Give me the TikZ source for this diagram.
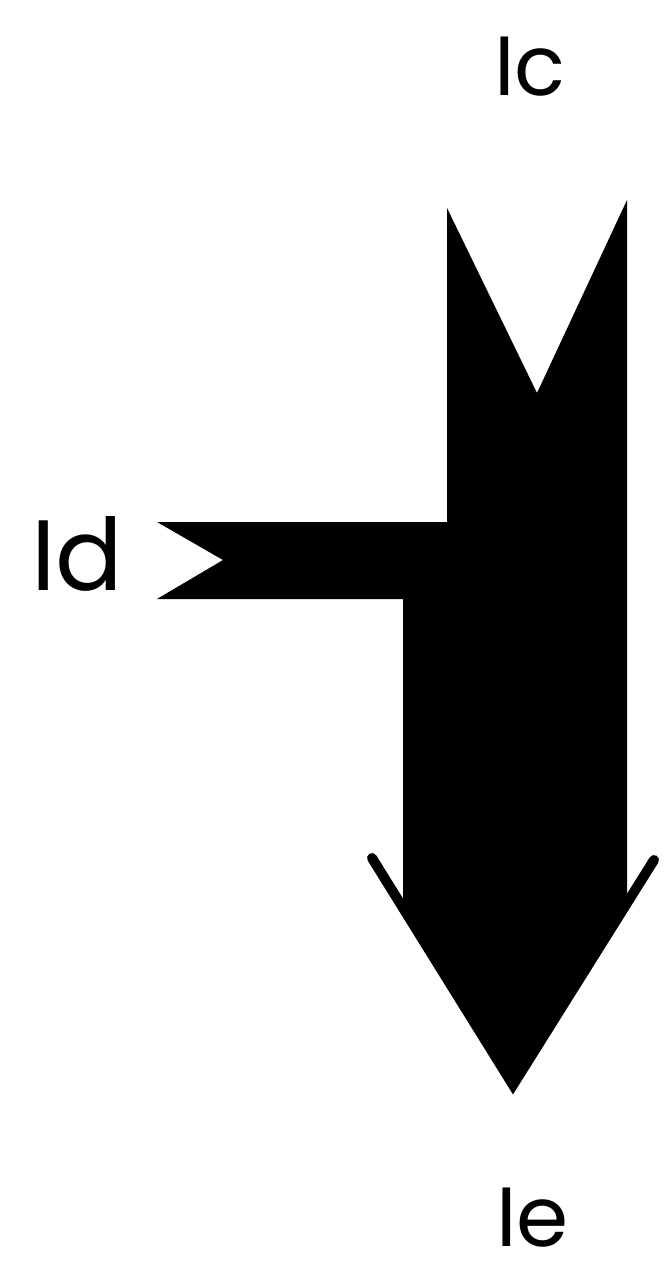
\documentclass[tikz,border=0pt]{standalone}
\usepackage{fontspec}
\setmainfont{Poppins}
\begin{document}
\begin{tikzpicture}[x=1pt,y=-1pt,
  lbl/.style={font=\fontsize{84}{84}\selectfont, inner sep=0pt, anchor=base west},
  flow/.style={fill=black, draw=none}]
\useasboundingbox (0,0) rectangle (665,1275);
% body of the flow arrow
\fill[flow] (447,208) -- (537,393) -- (627,200) -- (627,903) -- (513,1085)
  -- (403,908) -- (403,599) -- (157,599) -- (223,560) -- (157,522)
  -- (447,522) -- cycle;
% arrow head with protruding barbs
\draw[line width=10pt, line cap=round, line join=miter]
  (372,858) -- (513,1085) -- (654,860);
% labels
\node[lbl] (ic) at (494,95) {Ic};
\node[lbl, font=\fontsize{100}{100}\selectfont] (id) at (31,590) {Id};
\node[lbl] (ie) at (496,1246) {Ie};
\end{tikzpicture}
\end{document}
